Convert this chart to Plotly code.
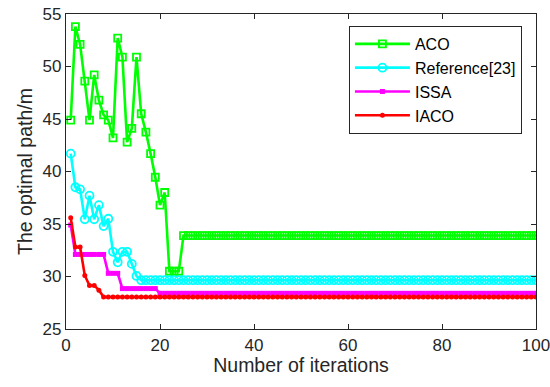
import plotly.graph_objects as go

# Convergence curves: best path length per iteration
iterations = list(range(1, 101))

aco_head = [44.9, 53.8, 52.1, 48.6, 44.9, 49.2, 46.8, 45.4, 44.9, 43.2,
            52.7, 50.9, 42.8, 44.1, 50.9, 45.5, 43.75, 41.7, 39.45, 36.8,
            38.0, 30.5, 30.5, 30.5, 33.9]
aco = aco_head + [33.9] * (100 - len(aco_head))

ref_head = [41.7, 38.5, 38.3, 35.45, 37.7, 35.45, 36.8, 34.8, 35.5, 32.35,
            31.35, 32.35, 32.35, 31.2, 30.05, 29.65]
ref23 = ref_head + [29.65] * (100 - len(ref_head))

issa = [34.9] + [32.1] * 7 + [30.3] * 3 + [28.85] * 8 + [28.4] * 81

iaco_head = [35.6, 32.8, 32.8, 30.1, 29.15, 29.15, 28.7]
iaco = iaco_head + [28.05] * (100 - len(iaco_head))

x_ticks = [0, 20, 40, 60, 80, 100]
y_ticks = [25, 30, 35, 40, 45, 50, 55]

FONT = "Liberation Sans, Arial, sans-serif"

fig = go.Figure()
fig.add_trace(go.Scatter(
    x=iterations, y=aco, name="ACO", mode="lines+markers",
    line=dict(color="#00ff00", width=2.6),
    marker=dict(symbol="square-open", size=7, color="#00ff00",
                line=dict(width=1.8, color="#00ff00"))))
fig.add_trace(go.Scatter(
    x=iterations, y=ref23, name="Reference[23]", mode="lines+markers",
    line=dict(color="#00ffff", width=2.6),
    marker=dict(symbol="circle-open", size=8, color="#00ffff",
                line=dict(width=1.8, color="#00ffff"))))
fig.add_trace(go.Scatter(
    x=iterations, y=issa, name="ISSA", mode="lines+markers",
    line=dict(color="#ff00ff", width=2.6),
    marker=dict(symbol="square", size=5, color="#ff00ff")))
fig.add_trace(go.Scatter(
    x=iterations, y=iaco, name="IACO", mode="lines+markers",
    line=dict(color="#ff0000", width=2.6),
    marker=dict(symbol="circle", size=5, color="#ff0000")))

axis_common = dict(
    showline=True, linecolor="#262626", linewidth=1.2, mirror="allticks",
    ticks="inside", ticklen=5, tickcolor="#262626", tickwidth=1,
    showgrid=False, zeroline=False, automargin=False,
    ticklabeloverflow="allow",
    tickfont=dict(family=FONT, size=17, color="#262626"),
)

fig.update_layout(
    width=550, height=387,
    margin=dict(l=66, r=14, t=14, b=58, autoexpand=False),
    paper_bgcolor="white", plot_bgcolor="white",
    font=dict(family=FONT, size=16, color="#262626"),
    xaxis=dict(range=[0, 100], tickvals=x_ticks,
               title=dict(text="Number of iterations",
                          font=dict(family=FONT, size=19.5, color="#262626"),
                          standoff=2),
               **axis_common),
    yaxis=dict(range=[25, 55], tickvals=y_ticks,
               title=dict(text="The optimal path/m",
                          font=dict(family=FONT, size=19.5, color="#262626"),
                          standoff=4),
               **axis_common),
    legend=dict(x=0.602, y=0.962, xanchor="left", yanchor="top",
                bordercolor="#262626", borderwidth=1, bgcolor="white",
                font=dict(family=FONT, size=16, color="#000000"),
                tracegroupgap=0, itemwidth=55),
    showlegend=True,
)

fig.write_html("out.html")
